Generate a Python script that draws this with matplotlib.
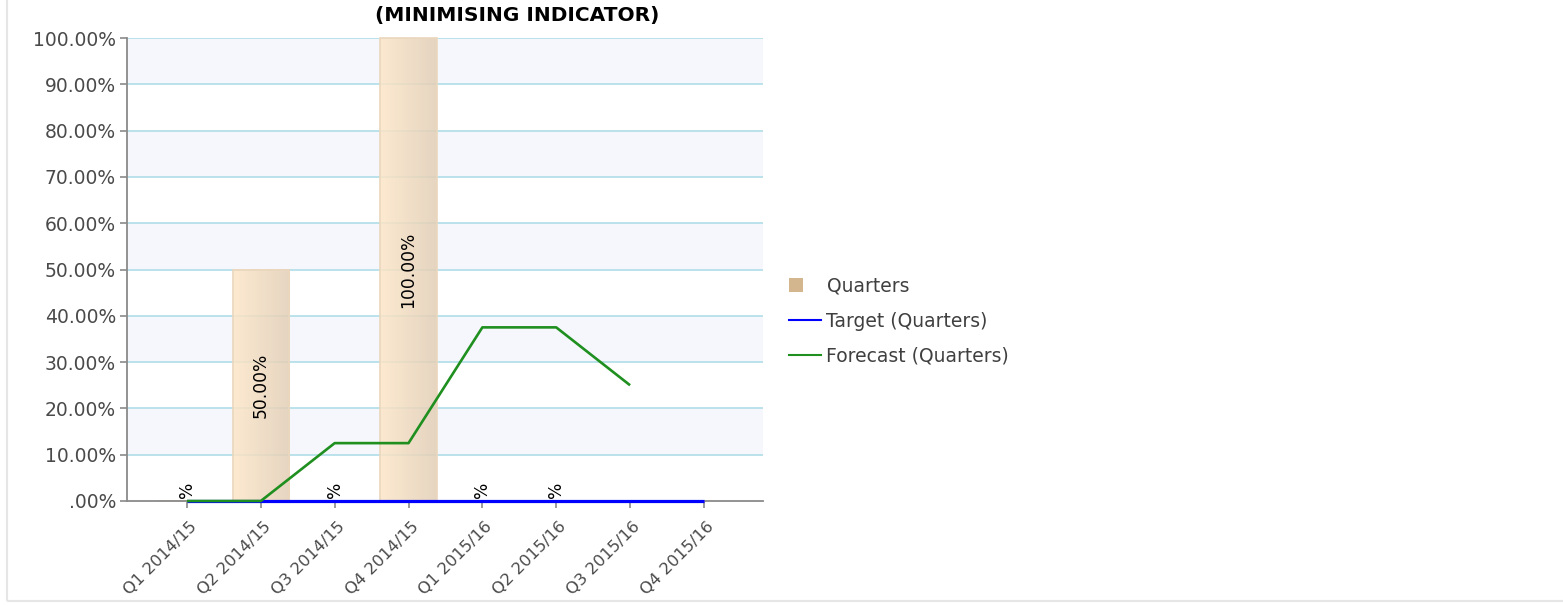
import numpy as np
import matplotlib
matplotlib.use("Agg")
import matplotlib.pyplot as plt
from matplotlib.patches import Rectangle
from matplotlib.lines import Line2D
from matplotlib.legend_handler import HandlerPatch
import matplotlib.transforms as mtransforms

# ---- data -------------------------------------------------------------
quarters = ["Q1 2014/15", "Q2 2014/15", "Q3 2014/15", "Q4 2014/15",
            "Q1 2015/16", "Q2 2015/16", "Q3 2015/16", "Q4 2015/16"]
actual = [0.0, 50.0, 0.0, 100.0, 0.0, 0.0, None, None]
target = [0.0, 0.0, 0.0, 0.0, 0.0, 0.0, 0.0, 0.0]
forecast = [0.0, 0.0, 12.5, 12.5, 37.5, 37.5, 25.0, None]
y_ticks = [0, 10, 20, 30, 40, 50, 60, 70, 80, 90, 100]
title = "(MINIMISING INDICATOR)"
series_names = ["Quarters", "Target (Quarters)", "Forecast (Quarters)"]

W, H, DPI = 1563, 607, 100
fig = plt.figure(figsize=(W / DPI, H / DPI), dpi=DPI)
fig.patch.set_facecolor("white")

# outer frame (left and bottom edges visible)
fig.add_artist(Rectangle((7.5 / W, 1 - 600.5 / H), 1.2, 1.2, transform=fig.transFigure,
                         fill=False, edgecolor="#e6e6e6", linewidth=1.5))

left, right, top, bottom = 127, 763, 38, 501
ax = fig.add_axes([left / W, 1 - bottom / H, (right - left) / W, (bottom - top) / H])
ax.set_facecolor("white")

x = np.arange(len(quarters))
xlim = (-0.812, 7.80)
ylim = (0, 100)

# alternating tinted bands and horizontal grid lines
for lo in range(10, 100, 20):
    ax.axhspan(lo, lo + 10, color="#f5f7fd", zorder=0, linewidth=0)
for v in y_ticks[1:]:
    ax.axhline(v, color="#b5e0e9", linewidth=1.3, zorder=1)

# bars with a horizontal peach-to-tan gradient
bar_w = 0.76
grad = np.linspace(0, 1, 64)
c0 = np.array([0xfd, 0xe6, 0xc8]) / 255
c1 = np.array([0xe2, 0xce, 0xb5]) / 255
rgb = c0[None, :] * (1 - grad[:, None]) + c1[None, :] * grad[:, None]
img = rgb[None, :, :]
for xi, v in zip(x, actual):
    if v is None:
        continue
    ax.bar(xi, v, width=bar_w, facecolor="none", edgecolor="#ead7bd",
           linewidth=1.2, zorder=2.5, clip_on=False)
    if v > 0:
        ax.imshow(img, extent=[xi - bar_w / 2, xi + bar_w / 2, 0, v],
                  aspect="auto", alpha=0.85, zorder=2, interpolation="bilinear")

# target and forecast lines
tx = [xi for xi, v in zip(x, target) if v is not None]
ty = [v for v in target if v is not None]
ax.plot(tx, ty, color="#0000ff", linewidth=2.3, zorder=4, solid_capstyle="butt",
        clip_on=False)
fx = [xi for xi, v in zip(x, forecast) if v is not None]
fy = [v for v in forecast if v is not None]
ax.plot(fx, fy, color="#1f8f1f", linewidth=1.9, zorder=5, solid_capstyle="butt",
        clip_on=False)

# bar value labels
def bar_label(v):
    return f"{v:.2f}%" if v > 0 else "%"

up = mtransforms.offset_copy(ax.transData, fig=fig, x=0, y=3, units="dots")
for xi, v in zip(x, actual):
    if v is None:
        continue
    if v > 0:
        ax.text(xi, v / 2, bar_label(v), rotation=90, ha="center", va="center",
                fontsize=12.3, color="black", zorder=6)
    else:
        ax.text(xi, 0, bar_label(v), rotation=90, ha="center", va="bottom",
                fontsize=12.3, color="black", zorder=6, transform=up)

ax.set_xlim(*xlim)
ax.set_ylim(*ylim)

# axes styling
for s in ["top", "right"]:
    ax.spines[s].set_visible(False)
for s in ["left", "bottom"]:
    ax.spines[s].set_color("#8a8a8a")
    ax.spines[s].set_linewidth(1.3)
    ax.spines[s].set_zorder(3)

def pct(v):
    s = f"{v:.2f}%"
    return s[1:] if s.startswith("0") else s

ax.set_yticks(y_ticks)
ax.set_yticklabels([pct(v) for v in y_ticks])
ax.set_xticks(x)
ax.set_xticklabels(quarters, rotation=45, ha="right")
ax.tick_params(axis="y", length=5, width=1.2, color="#8a8a8a", labelsize=13.5,
               labelcolor="#4a4a4a", pad=3)
ax.tick_params(axis="x", length=5, width=1.2, color="#8a8a8a", labelsize=11.8,
               labelcolor="#4a4a4a", pad=8)
shift = mtransforms.ScaledTranslation(13 / DPI, 0, fig.dpi_scale_trans)
for lab in ax.get_xticklabels():
    lab.set_transform(lab.get_transform() + shift)

# title
fig.text(517 / W, 1 - 15 / H, title, ha="center", va="center",
         fontsize=14.5, fontweight="bold", color="black")

# legend
class SquareHandler(HandlerPatch):
    def create_artists(self, legend, orig_handle, xdescent, ydescent, width,
                       height, fontsize, trans):
        s = 10
        r = Rectangle((-xdescent, -ydescent + (height - s) / 2), s, s,
                      facecolor=orig_handle.get_facecolor(), edgecolor="none",
                      transform=trans)
        return [r]

h_bar = Rectangle((0, 0), 1, 1, facecolor="#d4b68e")
h_t = Line2D([], [], color="#0000ff", linewidth=1.5)
h_f = Line2D([], [], color="#1f8f1f", linewidth=1.5)
leg = fig.legend([h_bar, h_t, h_f], series_names, loc="upper left",
                 bbox_to_anchor=(789 / W, 1 - 277 / H), frameon=False,
                 fontsize=13.5, handlelength=1.7, handletextpad=0.3,
                 labelspacing=0.85, borderpad=0, borderaxespad=0,
                 handler_map={Rectangle: SquareHandler()})
for t in leg.get_texts():
    t.set_color("#404040")

fig.savefig("out.png", dpi=DPI, facecolor="white")
